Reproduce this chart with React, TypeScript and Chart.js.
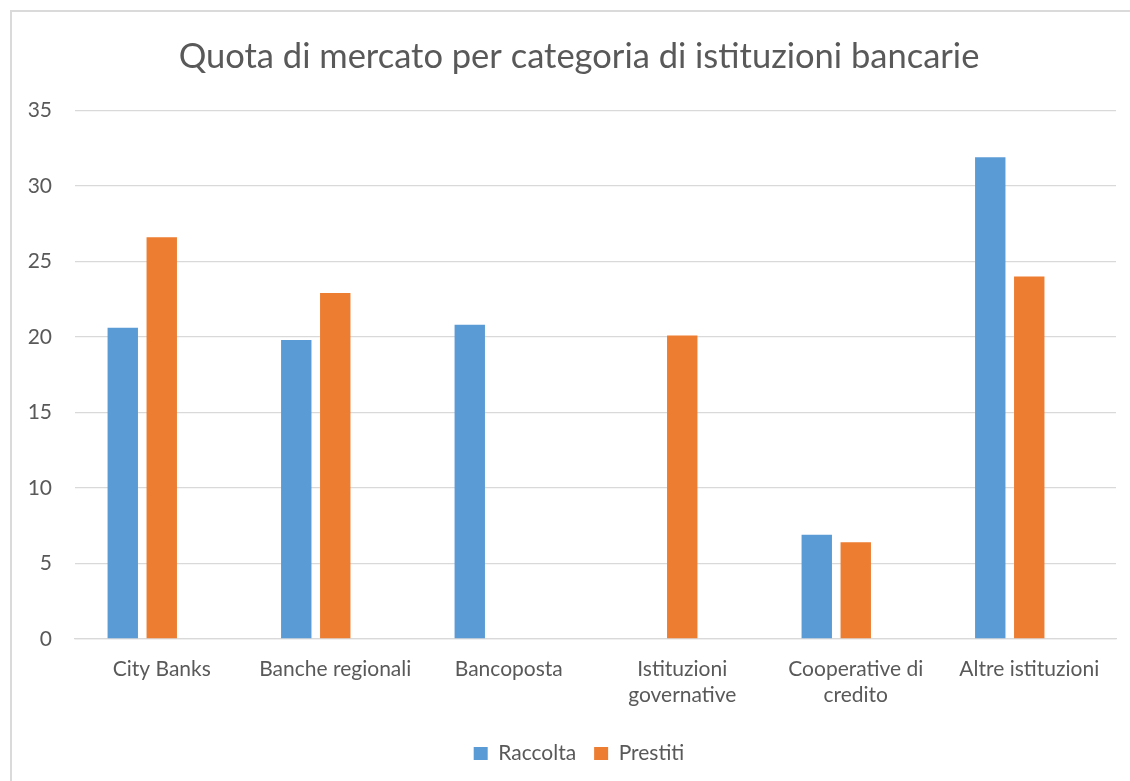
import React, { useEffect, useRef } from "react";
import { Chart, registerables } from "chart.js";

Chart.register(...registerables);

const titleText = "Quota di mercato per categoria di istituzioni bancarie";
const categories: (string | string[])[] = [
  "City Banks",
  "Banche regionali",
  "Bancoposta",
  ["Istituzioni", "governative"],
  ["Cooperative di", "credito"],
  "Altre istituzioni",
];
const raccolta: (number | null)[] = [20.6, 19.8, 20.8, null, 6.9, 31.9];
const prestiti: (number | null)[] = [26.6, 22.9, null, 20.1, 6.4, 24.0];
const emptySeries: (number | null)[] = [null, null, null, null, null, null];
const yMin = 0;
const yMax = 35;
const yStep = 5;

const FONT = "Lato, 'Open Sans', sans-serif";
const TEXT = "#595959";
const GRID = "#d9d9d9";

export default function App() {
  const ref = useRef<HTMLCanvasElement | null>(null);
  useEffect(() => {
    if (!ref.current) return;
    const chart = new Chart(ref.current, {
      type: "bar",
      data: {
        labels: categories,
        datasets: [
          { label: "Raccolta", data: raccolta, backgroundColor: "#5B9BD5" },
          { label: "Prestiti", data: prestiti, backgroundColor: "#ED7D31" },
          { label: "", data: emptySeries, backgroundColor: "#A5A5A5" },
        ],
      },
      options: {
        animation: false,
        responsive: true,
        maintainAspectRatio: false,
        datasets: { bar: { categoryPercentage: 0.674, barPercentage: 0.78 } },
        layout: { padding: { left: 28, right: 0, top: 0, bottom: 7 } },
        plugins: {
          tooltip: { enabled: false },
          title: {
            display: true,
            text: titleText,
            color: TEXT,
            font: { family: FONT, size: 34.5, weight: "normal" },
            padding: { top: 36, bottom: 33 },
          },
          legend: {
            position: "bottom",
            labels: {
              color: TEXT,
              font: { family: FONT, size: 21 },
              boxWidth: 14,
              boxHeight: 13,
              padding: 18,
              filter: (item: any) => item.text !== "",
            },
          },
        },
        scales: {
          x: {
            grid: { display: false, drawTicks: false },
            border: { display: true, color: GRID, width: 1.3 },
            ticks: {
              color: TEXT,
              font: { family: FONT, size: 21, lineHeight: 1.24 },
              padding: 17,
              maxRotation: 0,
              autoSkip: false,
            },
          },
          y: {
            min: yMin,
            max: yMax,
            grid: { color: GRID, lineWidth: 1.3, drawTicks: false },
            border: { display: false },
            ticks: {
              stepSize: yStep,
              color: TEXT,
              font: { family: FONT, size: 21 },
              padding: 23,
            },
            afterFit: (scale: any) => {
              scale.width = 47;
            },
          },
          yRight: {
            position: "right",
            min: yMin,
            max: yMax,
            grid: { display: false, drawTicks: false },
            border: { display: false },
            ticks: { display: false },
            afterFit: (scale: any) => {
              scale.width = 14;
            },
          },
        },
      },
    });
    return () => chart.destroy();
  }, []);
  return (
    <div style={{ position: "fixed", left: 0, top: 0, width: 1130, height: 781, background: "#fff" }}>
      <div
        style={{
          position: "absolute",
          left: 10,
          top: 10,
          width: 1300,
          height: 900,
          border: "2px solid #dadada",
        }}
      />
      <div style={{ position: "absolute", left: 0, top: 0, width: 1130, height: 781 }}>
        <canvas ref={ref} />
      </div>
    </div>
  );
}
